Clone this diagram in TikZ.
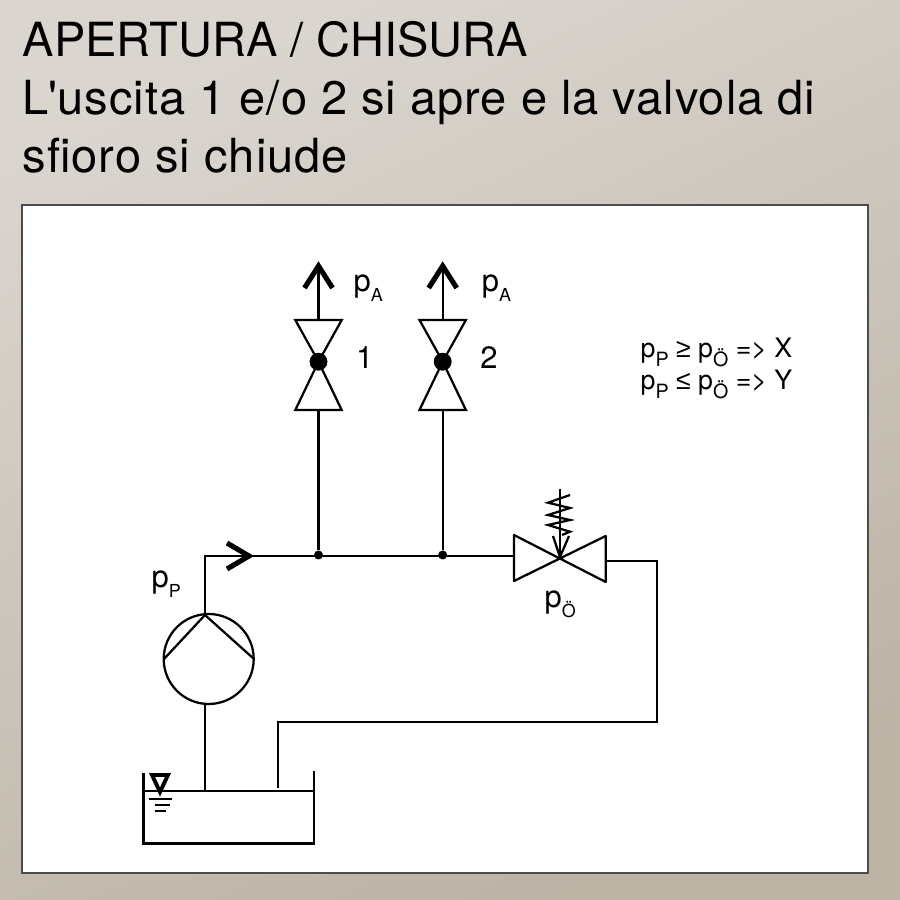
\documentclass[tikz,border=0pt]{standalone}
\usepackage{xcolor}
\usepackage{fontspec}
\setmainfont{TeX Gyre Heros}
\newfontfamily\symfont{Liberation Sans}
\usepackage{tikz}

\definecolor{bglight}{HTML}{DAD5CF}
\definecolor{bgdark}{HTML}{BCB3A5}
\newcommand{\pres}[2][5.1pt]{p\raisebox{-0.3em}{\fontsize{#1}{#1}\selectfont #2}}

\tikzset{
    pipe/.style={line width=0.64pt},
    chevron/.style={line width=1.45pt, line join=miter},
    titletext/.style={anchor=base west, inner sep=0pt, font=\fontsize{13.38pt}{16pt}\selectfont},
    bodytext/.style={titletext, font=\fontsize{13.38pt}{16pt}\selectfont\addfontfeature{LetterSpace=2.1}},
    plabel/.style={anchor=base west, inner sep=0pt, font=\fontsize{8.8pt}{10pt}\selectfont},
    rule/.style={anchor=base west, inner sep=0pt, font=\fontsize{7.6pt}{9pt}\selectfont},
    junction/.style={circle, fill=black, inner sep=0pt, minimum size=#1}
}

\begin{document}
\begin{tikzpicture}
    \useasboundingbox (0,0) rectangle (9,9);
    \shade[left color=bglight, right color=bgdark, shading angle=25] (0,0) rectangle (9,9);
    \draw[draw=black!70, fill=white, line width=0.35pt] (0.22,0.27) rectangle (8.68,6.95);

    \node[titletext] (title) at (0.22,8.43) {APERTURA / CHISURA};
    \node[bodytext] (line1) at (0.22,7.85) {L\textquotesingle uscita 1 e/o 2 si apre e la valvola di};
    \node[bodytext] (line2) at (0.22,7.27) {sfioro si chiude};

    % main line
    \coordinate (pumpout) at (2.05,3.44);
    \coordinate (pumptop) at (2.05,2.85);
    \coordinate (pumpbot) at (2.05,1.96);
    \coordinate (tankin) at (2.05,1.09);
    \coordinate (ovin) at (5.14,3.44);
    \coordinate (ovout) at (6.057,3.393);
    \coordinate (corner) at (6.567,3.393);
    \coordinate (ret1) at (6.567,1.78);
    \coordinate (ret2) at (2.78,1.78);
    \coordinate (tankret) at (2.78,1.12);

    \draw[pipe] (pumptop) -- (pumpout) -- (ovin);
    \draw[pipe] (pumpbot) -- (tankin);
    \draw[pipe] (ovout) -- (corner) -- (ret1) -- (ret2) -- (tankret);
    \draw[chevron] (2.27,3.57) -- (2.49,3.44) -- (2.27,3.31);

    % outlets
    \foreach \x/\n/\o in {3.185/1/0.345,4.427/2/0.385}{
        \node[junction=0.9mm] (j\n) at (\x,3.45) {};
        \node[junction=1.76mm] (v\n) at (\x,5.383) {};
        \coordinate (vb\n) at (\x,4.9);
        \coordinate (vt\n) at (\x,5.8);
        \coordinate (out\n) at (\x,6.3);
        \draw[pipe] (j\n) -- (vb\n);
        \draw[pipe] (vt\n) -- (out\n);
        \draw[pipe] (\x-0.232,4.9) -- (v\n.center) -- (\x+0.232,4.9) -- cycle;
        \draw[pipe] (\x-0.232,5.8) -- (v\n.center) -- (\x+0.232,5.8) -- cycle;
        \node[junction=1.76mm] at (v\n) {};
        \draw[chevron] (\x-0.14,6.12) -- (\x,6.34) -- (\x+0.14,6.12);
        \node[plabel] (p\n) at (\x+\o,6.08) {\pres{A}};
        \node[plabel] (num\n) at (\x+0.37,5.31) {\n};
    }

    % relief valve
    \draw[pipe, line join=round] (5.14,3.65) -- (5.14,3.19) -- (6.057,3.64) -- (6.057,3.18) -- cycle;
    \draw[pipe] (5.6,3.41) -- (5.6,4.11);
    \draw[pipe] (5.7,4.05) -- (5.48,3.973) -- (5.7,3.92) -- (5.48,3.85) -- (5.7,3.8) -- (5.48,3.75) -- (5.7,3.683) -- (5.62,3.65);
    \draw[pipe] (5.53,3.64) -- (5.6,3.43) -- (5.69,3.64);
    \node[plabel] (povl) at (5.44,2.92) {\pres{Ö}};

    % pump
    \draw[pipe] (2.087,2.41) circle (0.45);
    \draw[pipe] (1.64,2.41) -- (pumptop) -- (2.54,2.41);
    \node[plabel] (ppump) at (1.51,3.12) {\pres{P}};

    % tank
    \draw[pipe] (1.435,1.27) -- (1.435,0.565) -- (3.14,0.565) -- (3.14,1.29);
    \draw[pipe] (1.43,1.09) -- (3.14,1.09);
    \draw[line width=1.1pt] (1.52,1.25) -- (1.68,1.25) -- (1.6,1.08) -- cycle;
    \draw[pipe] (1.487,1.013) -- (1.72,1.013);
    \draw[pipe] (1.55,0.95) -- (1.7,0.95);
    \draw[pipe] (1.55,0.893) -- (1.66,0.893);

    % rules
    \node[rule] (rule1) at (6.4,5.42) {\pres[5.6pt]{P} {\symfont ≥} \pres[5.6pt]{Ö} => X};
    \node[rule] (rule2) at (6.4,5.1) {\pres[5.6pt]{P} {\symfont ≤} \pres[5.6pt]{Ö} => Y};
\end{tikzpicture}
\end{document}
